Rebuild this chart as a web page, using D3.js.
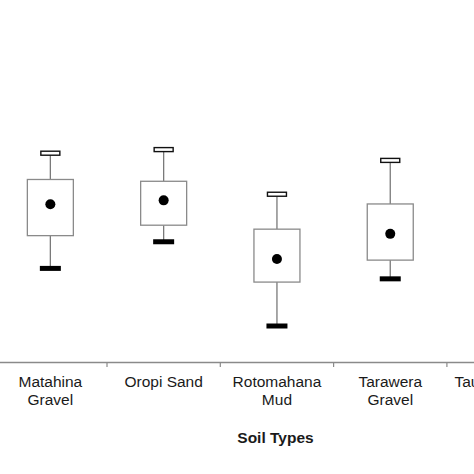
<!DOCTYPE html>
<html>
<head>
<meta charset="utf-8">
<script src="https://cdn.jsdelivr.net/npm/d3@7"></script>
<style>
  body { margin: 0; background: #fff; }
  svg { display: block; font-family: "Liberation Sans", Arial, Helvetica, sans-serif; }
</style>
</head>
<body>
<div id="chart_soil"></div>
<script>
// values (y units arbitrary, no y axis visible)
var categories = ["Matahina\nGravel", "Oropi Sand", "Rotomahana\nMud", "Tarawera\nGravel", "Taupo Pumice"];
var maxVals  = [58.0, 59.0, 46.6, 56.0, 52.0];
var q3Vals   = [50.7, 50.2, 36.9, 43.9, 44.0];
var meanVals = [43.8, 44.9, 28.6, 35.6, 38.0];
var q1Vals   = [35.1, 38.0, 22.2, 28.3, 31.0];
var minVals  = [26.0, 33.4, 10.0, 23.1, 24.0];

var data = categories.map(function(c, i) {
  return {cat: c, max: maxVals[i], q3: q3Vals[i], mean: meanVals[i], q1: q1Vals[i], min: minVals[i]};
});

var width = 474, height = 474;

var svg = d3.select("#chart_soil")
  .append("svg")
    .attr("width", width)
    .attr("height", height);

// plot is cropped on the left and right, so the band range runs past the edges
var x = d3.scaleBand()
  .domain(categories)
  .range([-6.3, 560.2])
  .padding(0);

var y = d3.scaleLinear()
  .domain([0, 100])
  .range([362, 2]);

var axisY = y(0);

// x axis, labels centred in bands, ticks on band boundaries
var xAxis = svg.append("g")
  .attr("transform", "translate(0," + axisY + ")")
  .call(d3.axisBottom(x).tickSize(0).tickSizeOuter(0));

xAxis.select(".domain").attr("stroke", "#8a8a8a").attr("stroke-width", 1.3);

xAxis.selectAll(".tick text")
  .attr("y", 24.7)
  .attr("dy", null)
  .attr("fill", "#1a1a1a")
  .style("font-size", "15.5px")
  .each(function(d) {
    var t = d3.select(this);
    var lines = d.split("\n");
    t.text(null);
    lines.forEach(function(line, i) {
      t.append("tspan")
        .attr("x", 0)
        .attr("dy", i === 0 ? 0 : 18.3)
        .text(line);
    });
  });

xAxis.selectAll(".boundary")
  .data(categories)
  .enter()
  .append("line")
    .attr("class", "boundary")
    .attr("x1", function(d) { return x(d); })
    .attr("x2", function(d) { return x(d); })
    .attr("y1", 0)
    .attr("y2", 5)
    .attr("stroke", "#8a8a8a")
    .attr("stroke-width", 1.2);

// axis title
svg.append("text")
  .attr("x", 275.5)
  .attr("y", 442.7)
  .attr("text-anchor", "middle")
  .style("font-size", "15.5px")
  .style("font-weight", "bold")
  .attr("fill", "#1a1a1a")
  .text("Soil Types");

// boxes
var boxW = 46, capW = 20;
var g = svg.append("g")
  .selectAll("g")
  .data(data)
  .enter()
  .append("g")
    .attr("transform", function(d) { return "translate(" + (x(d.cat) + x.bandwidth() / 2) + ",0)"; });

// whiskers
g.append("line")
  .attr("x1", 0).attr("x2", 0)
  .attr("y1", function(d) { return y(d.max); })
  .attr("y2", function(d) { return y(d.q3); })
  .attr("stroke", "#7a7a7a").attr("stroke-width", 1.3);
g.append("line")
  .attr("x1", 0).attr("x2", 0)
  .attr("y1", function(d) { return y(d.q1); })
  .attr("y2", function(d) { return y(d.min); })
  .attr("stroke", "#7a7a7a").attr("stroke-width", 1.3);

g.append("rect")
  .attr("x", -boxW / 2)
  .attr("y", function(d) { return y(d.q3); })
  .attr("width", boxW)
  .attr("height", function(d) { return y(d.q1) - y(d.q3); })
  .attr("fill", "#fff")
  .attr("stroke", "#8a8a8a")
  .attr("stroke-width", 1.3);

// top cap hollow, bottom cap solid
g.append("rect")
  .attr("x", -capW / 2 + 0.5)
  .attr("y", function(d) { return y(d.max) - 2; })
  .attr("width", capW - 1)
  .attr("height", 4)
  .attr("fill", "#fff")
  .attr("stroke", "#111")
  .attr("stroke-width", 1.4);
g.append("rect")
  .attr("x", -capW / 2 - 0.5)
  .attr("y", function(d) { return y(d.min) - 2.5; })
  .attr("width", capW + 1)
  .attr("height", 5)
  .attr("fill", "#000");

// mean dot
g.append("circle")
  .attr("cx", 0)
  .attr("cy", function(d) { return y(d.mean); })
  .attr("r", 5)
  .attr("fill", "#000");
</script>
</body>
</html>
